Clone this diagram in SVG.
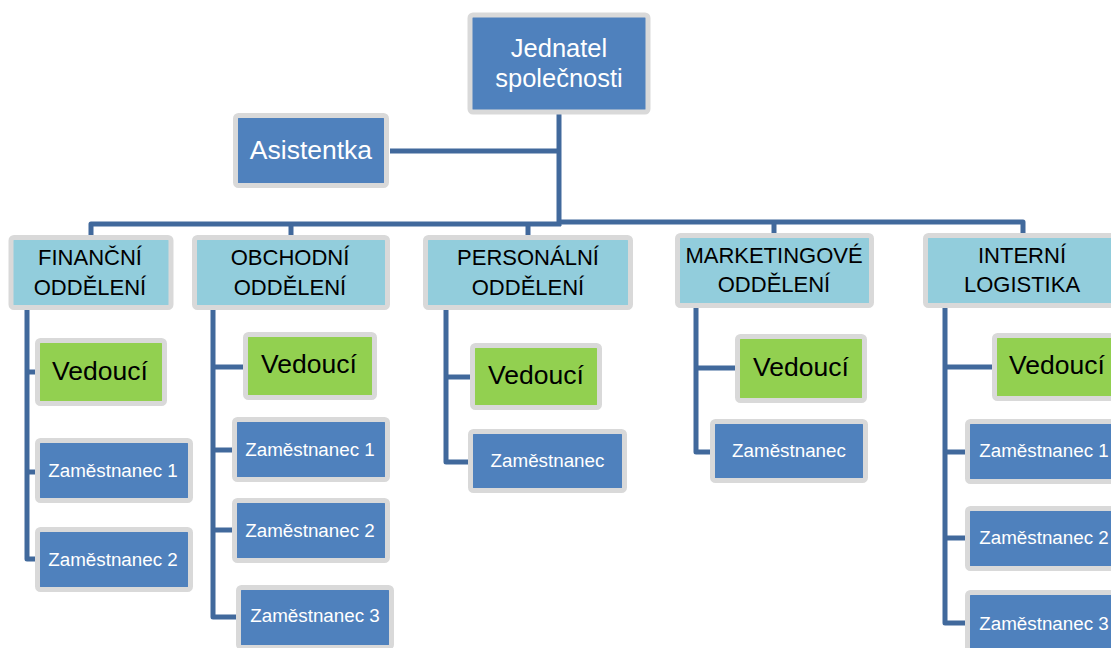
<svg xmlns="http://www.w3.org/2000/svg" width="1111" height="648" viewBox="0 0 1111 648">
  <style>
    .box { stroke: #d9d9d9; stroke-width: 5; }
    .dark { fill: #4f81bd; }
    .dept { fill: #92cddc; }
    .lead { fill: #92d050; }
    .wire { fill: none; stroke: #41699c; stroke-width: 5; stroke-linejoin: round; stroke-linecap: butt; }
    text { font-family: "Liberation Sans", Arial, sans-serif; text-anchor: middle; }
    .t-top { font-size: 25.5px; fill: #ffffff; }
    .t-asst { font-size: 26.5px; fill: #ffffff; }
    .t-dept { font-size: 22px; fill: #000000; }
    .t-lead { font-size: 26.5px; fill: #000000; }
    .t-emp { font-size: 18.8px; fill: #ffffff; }
  </style>

  <!-- connectors -->
  <g id="connectors">
    <!-- trunk, assistant link and bus -->
    <path class="wire" d="M559 114 V226"/>
    <path class="wire" d="M390 151 H559"/>
    <path class="wire" d="M561 224 H91 V237"/>
    <path class="wire" d="M557 222 H1023 V235"/>
    <path class="wire" d="M291 224 V237"/>
    <path class="wire" d="M528 224 V237"/>
    <path class="wire" d="M774 222 V235"/>
    <!-- finance -->
    <path class="wire" d="M27 310 V559 H37"/>
    <path class="wire" d="M27 372 H37"/>
    <path class="wire" d="M27 472 H37"/>
    <!-- sales -->
    <path class="wire" d="M213 310 V617 H238"/>
    <path class="wire" d="M213 367 H245"/>
    <path class="wire" d="M213 450 H234"/>
    <path class="wire" d="M213 530 H234"/>
    <!-- personnel -->
    <path class="wire" d="M446 310 V462 H470"/>
    <path class="wire" d="M446 377 H472"/>
    <!-- marketing -->
    <path class="wire" d="M696 308 V452 H712"/>
    <path class="wire" d="M696 368 H737"/>
    <!-- logistics -->
    <path class="wire" d="M945 308 V623 H967"/>
    <path class="wire" d="M945 367 H994"/>
    <path class="wire" d="M945 452 H967"/>
    <path class="wire" d="M945 538 H967"/>
  </g>

  <!-- top level -->
  <g id="ceo">
    <rect class="box dark" x="470" y="15" width="178" height="97" rx="3"/>
    <text class="t-top" x="559" y="57">Jednatel</text>
    <text class="t-top" x="559" y="87">společnosti</text>
  </g>
  <g id="assistant">
    <rect class="box dark" x="235.5" y="115.5" width="151" height="70" rx="3"/>
    <text class="t-asst" x="311" y="159">Asistentka</text>
  </g>

  <!-- departments -->
  <g id="dept-finance">
    <rect class="box dept" x="11" y="237.5" width="160" height="70" rx="3"/>
    <text class="t-dept" x="90" y="265">FINANČNÍ</text>
    <text class="t-dept" x="90" y="295">ODDĚLENÍ</text>
  </g>
  <g id="dept-sales">
    <rect class="box dept" x="194.5" y="237.5" width="193" height="70" rx="3"/>
    <text class="t-dept" x="290" y="265">OBCHODNÍ</text>
    <text class="t-dept" x="290" y="295">ODDĚLENÍ</text>
  </g>
  <g id="dept-personnel">
    <rect class="box dept" x="425.5" y="237.5" width="205" height="70" rx="3"/>
    <text class="t-dept" x="528" y="265">PERSONÁLNÍ</text>
    <text class="t-dept" x="528" y="295">ODDĚLENÍ</text>
  </g>
  <g id="dept-marketing">
    <rect class="box dept" x="677.5" y="235.5" width="194" height="70" rx="3"/>
    <text class="t-dept" x="774" y="263">MARKETINGOVÉ</text>
    <text class="t-dept" x="774" y="292">ODDĚLENÍ</text>
  </g>
  <g id="dept-logistics">
    <rect class="box dept" x="925.5" y="235.5" width="196" height="70" rx="3"/>
    <text class="t-dept" x="1022" y="263">INTERNÍ</text>
    <text class="t-dept" x="1022" y="292">LOGISTIKA</text>
  </g>

  <!-- finance staff -->
  <g id="finance-lead">
    <rect class="box lead" x="37.5" y="340.5" width="127" height="63" rx="3"/>
    <text class="t-lead" x="100" y="380">Vedoucí</text>
  </g>
  <g id="finance-emp1">
    <rect class="box dark" x="37.5" y="440.5" width="153" height="60" rx="3"/>
    <text class="t-emp" x="113" y="477">Zaměstnanec 1</text>
  </g>
  <g id="finance-emp2">
    <rect class="box dark" x="37.5" y="529.5" width="153" height="60" rx="3"/>
    <text class="t-emp" x="113" y="566">Zaměstnanec 2</text>
  </g>

  <!-- sales staff -->
  <g id="sales-lead">
    <rect class="box lead" x="245.5" y="334.5" width="129" height="63" rx="3"/>
    <text class="t-lead" x="309" y="373">Vedoucí</text>
  </g>
  <g id="sales-emp1">
    <rect class="box dark" x="234.5" y="419.5" width="153" height="60" rx="3"/>
    <text class="t-emp" x="310" y="456">Zaměstnanec 1</text>
  </g>
  <g id="sales-emp2">
    <rect class="box dark" x="234.5" y="500.5" width="153" height="60" rx="3"/>
    <text class="t-emp" x="310" y="537">Zaměstnanec 2</text>
  </g>
  <g id="sales-emp3">
    <rect class="box dark" x="238.5" y="587.5" width="153" height="60" rx="3"/>
    <text class="t-emp" x="315" y="622">Zaměstnanec 3</text>
  </g>

  <!-- personnel staff -->
  <g id="personnel-lead">
    <rect class="box lead" x="472.5" y="345.5" width="127" height="62" rx="3"/>
    <text class="t-lead" x="536" y="384">Vedoucí</text>
  </g>
  <g id="personnel-emp">
    <rect class="box dark" x="470.5" y="431.5" width="154" height="59" rx="3"/>
    <text class="t-emp" x="547.5" y="467">Zaměstnanec</text>
  </g>

  <!-- marketing staff -->
  <g id="marketing-lead">
    <rect class="box lead" x="737.5" y="336.5" width="127" height="64" rx="3"/>
    <text class="t-lead" x="801" y="376">Vedoucí</text>
  </g>
  <g id="marketing-emp">
    <rect class="box dark" x="712.5" y="421.5" width="153" height="59" rx="3"/>
    <text class="t-emp" x="789" y="457">Zaměstnanec</text>
  </g>

  <!-- logistics staff -->
  <g id="logistics-lead">
    <rect class="box lead" x="994.5" y="335.5" width="129" height="63" rx="3"/>
    <text class="t-lead" x="1057" y="374">Vedoucí</text>
  </g>
  <g id="logistics-emp1">
    <rect class="box dark" x="967.5" y="421.5" width="153" height="60" rx="3"/>
    <text class="t-emp" x="1044" y="457">Zaměstnanec 1</text>
  </g>
  <g id="logistics-emp2">
    <rect class="box dark" x="967.5" y="508.5" width="153" height="60" rx="3"/>
    <text class="t-emp" x="1044" y="544">Zaměstnanec 2</text>
  </g>
  <g id="logistics-emp3">
    <rect class="box dark" x="967.5" y="592.5" width="153" height="60" rx="3"/>
    <text class="t-emp" x="1044" y="630">Zaměstnanec 3</text>
  </g>
</svg>
